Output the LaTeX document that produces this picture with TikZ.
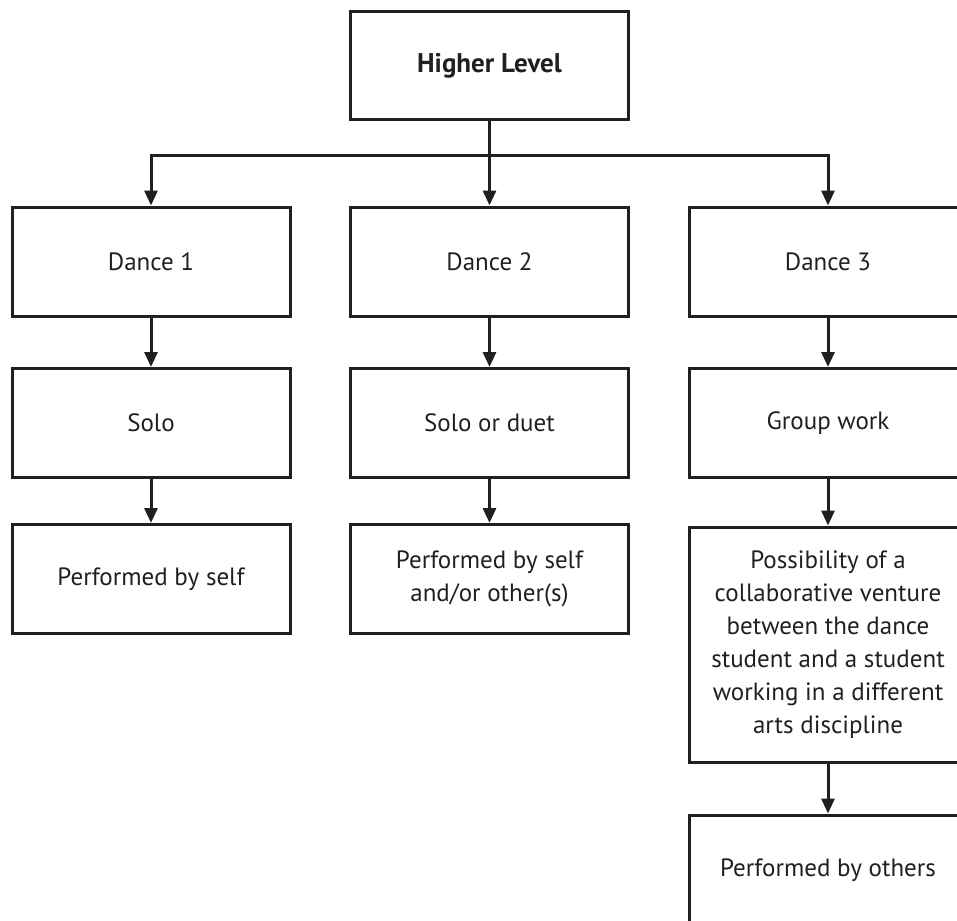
\documentclass[tikz,border=0pt]{standalone}
\usepackage{fontspec}
\setmainfont{PT Sans}
\usetikzlibrary{arrows.meta}
\definecolor{inkc}{HTML}{231F20}
\begin{document}
\begin{tikzpicture}[x=1pt,y=-1pt,
    box/.style={draw=inkc,line width=3pt,minimum width=278pt,minimum height=109pt,
      align=center,text=inkc,font=\fontsize{25}{33}\selectfont,inner sep=0pt},
    arr/.style={draw=inkc,line width=3pt,-{Triangle[length=15pt,width=13pt]}}]
    \useasboundingbox (0,0) rectangle (957,920);
    \clip (0,0) rectangle (957,920);
    \node[box,minimum height=108pt] (top) at (489.5,66) {\fontsize{27}{33}\selectfont\textbf{Higher Level}};
    \node[box] (dance1) at (151,261.5) {Dance 1};
    \node[box] (dance2) at (489.5,261.5) {Dance 2};
    \node[box] (dance3) at (828,261.5) {Dance 3};
    \node[box] (solo) at (151,423) {Solo};
    \node[box] (duet) at (489.5,423) {Solo or duet};
    \node[box] (group) at (828,423) {Group work};
    \node[box] (self) at (151,579) {Performed by self};
    \node[box] (selfother) at (489.5,579) {Performed by self\\and/or other(s)};
    \node[box,minimum height=235pt] (collab) at (828,644.5) {Possibility of a\\collaborative venture\\between the dance\\student and a student\\working in a different\\arts discipline};
    \node[box,minimum height=110pt] (others) at (828,870) {Performed by others};
    \coordinate (bus) at (489.5,156);
    \draw[draw=inkc,line width=3pt] (top.south) -- (bus);
    \draw[arr] (bus) -| (dance1.north);
    \draw[arr] (bus) -- (dance2.north);
    \draw[arr] (bus) -| (dance3.north);
    \draw[arr] (dance1) -- (solo);
    \draw[arr] (dance2) -- (duet);
    \draw[arr] (dance3) -- (group);
    \draw[arr] (solo) -- (self);
    \draw[arr] (duet) -- (selfother);
    \draw[arr] (group) -- (collab);
    \draw[arr] (collab) -- (others);
\end{tikzpicture}
\end{document}
